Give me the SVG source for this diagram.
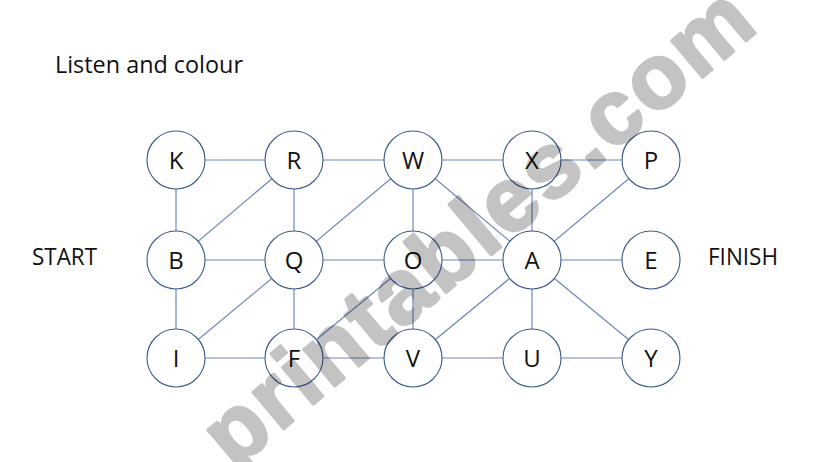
<svg xmlns="http://www.w3.org/2000/svg" width="821" height="462" viewBox="0 0 821 462">
<style>
.e{stroke:#6f88bb;stroke-width:1.2;fill:none}
.n circle{fill:#fff;stroke:#3c5a8c;stroke-width:1.1}
.n text{font-family:"Open Sans","Liberation Sans",sans-serif;font-size:24px;fill:#111;text-anchor:middle}
.lbl{font-family:"Open Sans","Liberation Sans",sans-serif;font-size:23px;fill:#111}
.wm{font-family:"Liberation Sans",Arial,sans-serif;font-weight:bold;font-size:91px;letter-spacing:3px;fill:#000;stroke:#000;stroke-width:3;stroke-linejoin:round;opacity:0.23;text-anchor:middle}
</style>
<rect width="821" height="462" fill="#fff"/>
<text class="lbl" x="55" y="73" textLength="188" lengthAdjust="spacingAndGlyphs">Listen and colour</text>
<text class="lbl" x="32" y="265" textLength="65" lengthAdjust="spacingAndGlyphs">START</text>
<text class="lbl" x="708" y="265" textLength="70" lengthAdjust="spacingAndGlyphs">FINISH</text>
<g id="connectors">
<line class="e" x1="176" y1="160" x2="294" y2="160"/>
<line class="e" x1="294" y1="160" x2="413" y2="160"/>
<line class="e" x1="413" y1="160" x2="532" y2="160"/>
<line class="e" x1="532" y1="160" x2="651" y2="160"/>
<line class="e" x1="176" y1="160" x2="176" y2="260"/>
<line class="e" x1="294" y1="160" x2="294" y2="260"/>
<line class="e" x1="413" y1="160" x2="413" y2="260"/>
<line class="e" x1="532" y1="160" x2="532" y2="260"/>
<line class="e" x1="176" y1="260" x2="294" y2="160"/>
<line class="e" x1="294" y1="260" x2="413" y2="160"/>
<line class="e" x1="413" y1="160" x2="532" y2="260"/>
<line class="e" x1="532" y1="260" x2="651" y2="160"/>
<line class="e" x1="176" y1="260" x2="294" y2="260"/>
<line class="e" x1="294" y1="260" x2="413" y2="260"/>
<line class="e" x1="413" y1="260" x2="532" y2="260"/>
<line class="e" x1="532" y1="260" x2="651" y2="260"/>
<line class="e" x1="176" y1="260" x2="176" y2="358"/>
<line class="e" x1="294" y1="260" x2="294" y2="358"/>
<line class="e" x1="413" y1="260" x2="413" y2="358"/>
<line class="e" x1="532" y1="260" x2="532" y2="358"/>
<line class="e" x1="176" y1="358" x2="294" y2="260"/>
<line class="e" x1="294" y1="358" x2="413" y2="260"/>
<line class="e" x1="413" y1="358" x2="532" y2="260"/>
<line class="e" x1="532" y1="260" x2="651" y2="358"/>
<line class="e" x1="176" y1="358" x2="294" y2="358"/>
<line class="e" x1="294" y1="358" x2="413" y2="358"/>
<line class="e" x1="413" y1="358" x2="532" y2="358"/>
<line class="e" x1="532" y1="358" x2="651" y2="358"/>
</g>
<g id="node-K" class="n"><circle cx="176" cy="160" r="29"/><text x="176" y="168.5">K</text></g>
<g id="node-R" class="n"><circle cx="294" cy="160" r="29"/><text x="294" y="168.5">R</text></g>
<g id="node-W" class="n"><circle cx="413" cy="160" r="29"/><text x="413" y="168.5">W</text></g>
<g id="node-X" class="n"><circle cx="532" cy="160" r="29"/><text x="532" y="168.5">X</text></g>
<g id="node-P" class="n"><circle cx="651" cy="160" r="29"/><text x="651" y="168.5">P</text></g>
<g id="node-B" class="n"><circle cx="176" cy="260" r="29"/><text x="176" y="268.5">B</text></g>
<g id="node-Q" class="n"><circle cx="294" cy="260" r="29"/><text x="294" y="268.5">Q</text></g>
<g id="node-O" class="n"><circle cx="413" cy="260" r="29"/><text x="413" y="268.5">O</text></g>
<g id="node-A" class="n"><circle cx="532" cy="260" r="29"/><text x="532" y="268.5">A</text></g>
<g id="node-E" class="n"><circle cx="651" cy="260" r="29"/><text x="651" y="268.5">E</text></g>
<g id="node-I" class="n"><circle cx="176" cy="358" r="29"/><text x="176" y="366.5">I</text></g>
<g id="node-F" class="n"><circle cx="294" cy="358" r="29"/><text x="294" y="366.5">F</text></g>
<g id="node-V" class="n"><circle cx="413" cy="358" r="29"/><text x="413" y="366.5">V</text></g>
<g id="node-U" class="n"><circle cx="532" cy="358" r="29"/><text x="532" y="366.5">U</text></g>
<g id="node-Y" class="n"><circle cx="651" cy="358" r="29"/><text x="651" y="366.5">Y</text></g>
<text class="wm" transform="translate(482,230) rotate(-40)" x="0" y="25">printables.com</text>
</svg>
